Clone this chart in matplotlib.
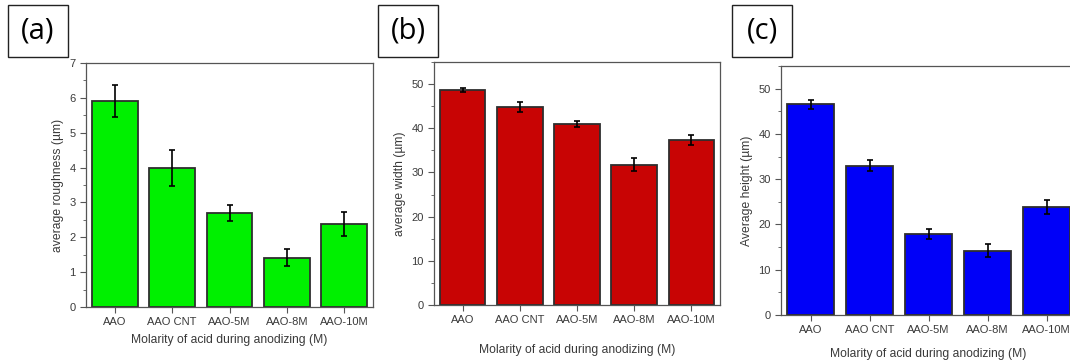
import matplotlib
matplotlib.use("Agg")
import matplotlib.pyplot as plt
from matplotlib.patches import Rectangle
from matplotlib.ticker import MultipleLocator

plt.rcParams['font.family'] = ['Liberation Sans', 'DejaVu Sans']

categories = ["AAO", "AAO CNT", "AAO-5M", "AAO-8M", "AAO-10M"]
roughness = [5.91, 3.99, 2.70, 1.42, 2.38]
roughness_err = [0.46, 0.52, 0.23, 0.25, 0.35]
width = [48.6, 44.8, 41.0, 31.8, 37.4]
width_err = [0.5, 1.15, 0.7, 1.45, 1.15]
height = [46.5, 33.0, 17.8, 14.2, 23.8]
height_err = [0.95, 1.2, 1.1, 1.45, 1.6]

W, H = 1070, 364
fig = plt.figure(figsize=(W / 100, H / 100), dpi=100)

TXT = '#3a3a3a'
SP = '#555555'

def px_axes(l, r, t, b):
    return fig.add_axes([l / W, 1 - b / H, (r - l) / W, (b - t) / H])

panels = [
    dict(box=(86, 373, 63, 307), vals=roughness, err=roughness_err, color='#00f000',
         ylim=7, major=1, minor=0.5, ylabel='average roughness (µm)', xlab_off=33,
         tag='(a)', tagbox=(8, 68, 5, 57)),
    dict(box=(434, 720, 62, 305), vals=width, err=width_err, color='#c80404',
         ylim=55, major=10, minor=5, ylabel='average width (µm)', xlab_off=45,
         tag='(b)', tagbox=(378, 438, 5, 57)),
    dict(box=(781, 1076, 66, 315), vals=height, err=height_err, color='#0000f8',
         ylim=55, major=10, minor=5, ylabel='Average height (µm)', xlab_off=39,
         tag='(c)', tagbox=(732, 792, 5, 57)),
]

for p in panels:
    l, r, t, b = p['box']
    ax = px_axes(l, r, t, b)
    x = range(len(categories))
    ax.bar(x, p['vals'], width=0.8, color=p['color'], edgecolor='#2e2e2e', linewidth=1.3,
           yerr=p['err'], error_kw=dict(ecolor='black', elinewidth=1.2, capsize=2.5, capthick=1.2))
    ax.set_xlim(-0.5, 4.5)
    ax.set_ylim(0, p['ylim'])
    ax.yaxis.set_major_locator(MultipleLocator(p['major']))
    ax.yaxis.set_minor_locator(MultipleLocator(p['minor']))
    ax.set_xticks(list(x))
    ax.set_xticklabels(categories)
    ax.tick_params(axis='both', which='major', direction='out', length=4, width=0.8,
                   labelsize=8, colors=SP, labelcolor=TXT)
    ax.tick_params(axis='y', which='minor', direction='out', length=2, width=0.6, colors=SP)
    ax.tick_params(axis='x', pad=3)
    for s in ax.spines.values():
        s.set_color(SP)
        s.set_linewidth(0.9)
    ax.set_ylabel(p['ylabel'], fontsize=8.7, color=TXT)
    ax.set_xlabel('Molarity of acid during anodizing (M)', fontsize=8.7, color=TXT)
    ax.xaxis.set_label_coords(0.5, -p['xlab_off'] / (b - t))
    ax.xaxis.label.set_verticalalignment('center')

    bl, br, bt, bb = p['tagbox']
    fig.patches.append(Rectangle((bl / W, 1 - bb / H), (br - bl) / W, (bb - bt) / H,
                                 transform=fig.transFigure, facecolor='white',
                                 edgecolor='#222222', linewidth=1.0))
    fig.text((bl + br) / 2 / W, 1 - (bt + bb) / 2 / H, p['tag'], ha='center', va='center',
             fontsize=21, family=['Open Sans', 'DejaVu Sans'], color='black')

fig.savefig('out.png', dpi=100)
